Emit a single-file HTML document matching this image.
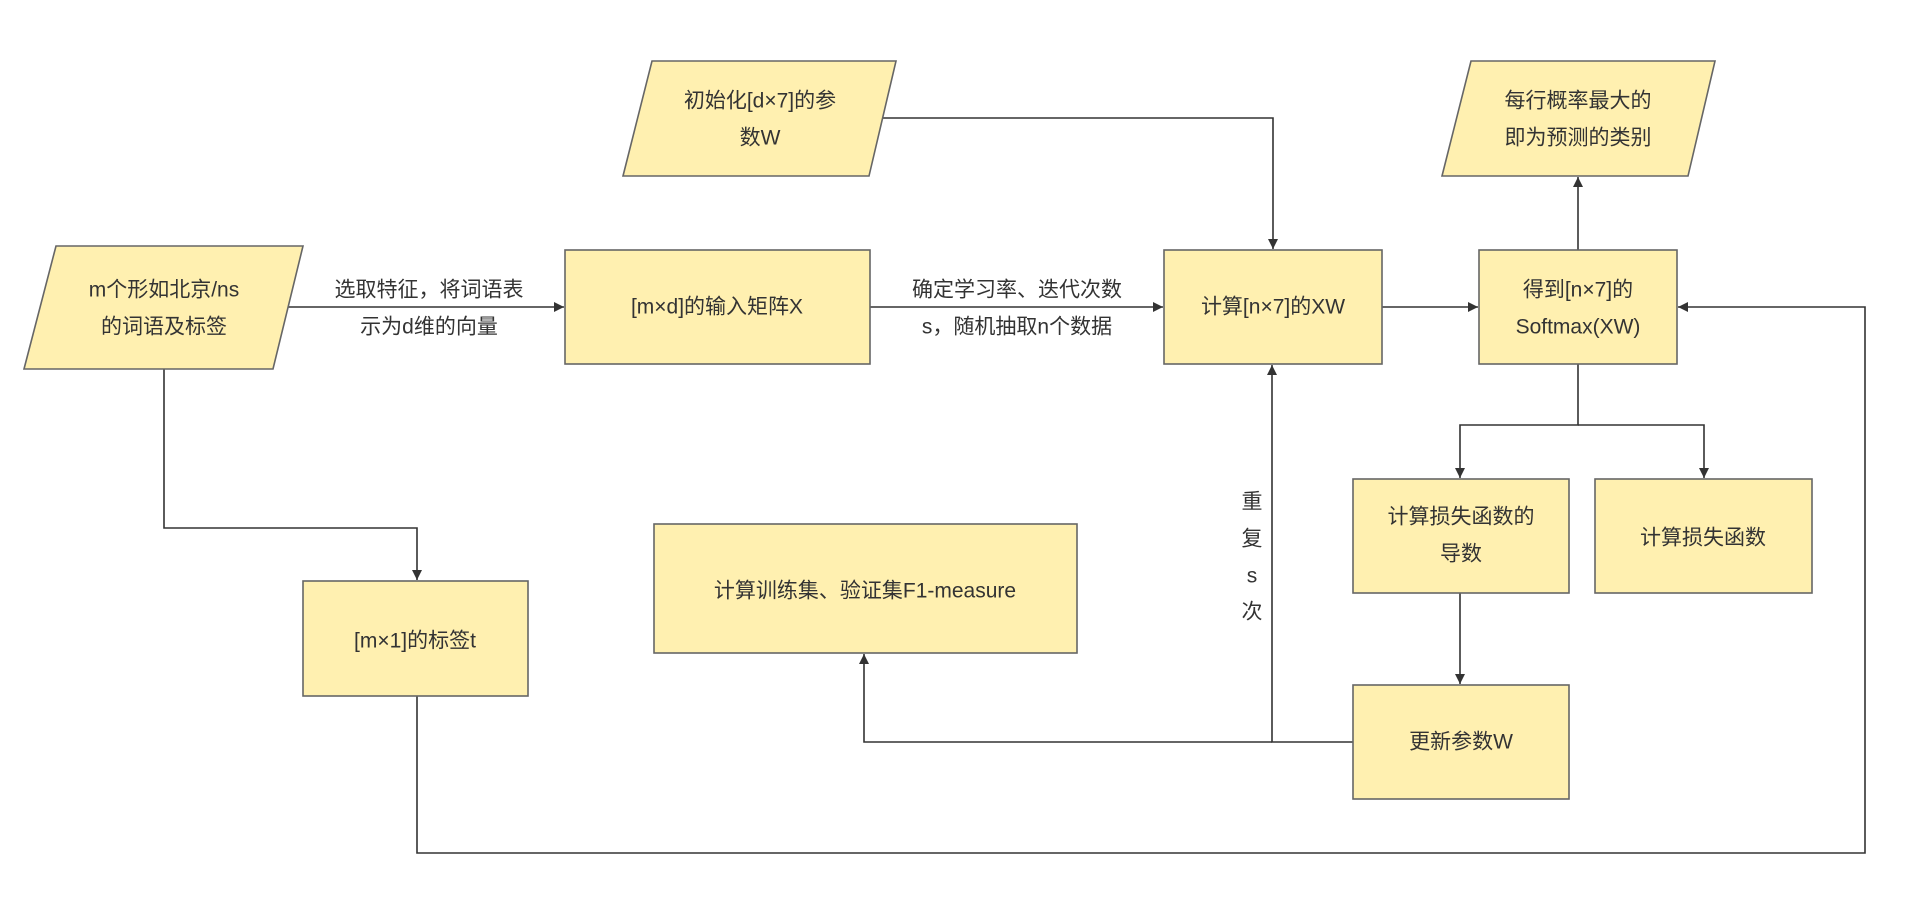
<!DOCTYPE html>
<html><head><meta charset="utf-8"><style>
body{margin:0;background:#fff}
svg text{font-family:"Liberation Sans","Noto Sans CJK SC",sans-serif;font-size:21px;fill:#333;text-anchor:middle;dominant-baseline:central}
</style></head><body>
<svg width="1910" height="904" viewBox="0 0 1910 904" xmlns="http://www.w3.org/2000/svg">
<defs><marker id="a" viewBox="0 0 10 10" refX="10" refY="5" markerWidth="10" markerHeight="10" markerUnits="userSpaceOnUse" orient="auto"><path d="M0,0L10,5L0,10z" fill="#333"/></marker></defs>
<g fill="none" stroke="#333" stroke-width="1.6">
<path d="M273,307H564" marker-end="url(#a)"/>
<path d="M870,307H1163" marker-end="url(#a)"/>
<path d="M869,118H1273V249" marker-end="url(#a)"/>
<path d="M1382,307H1478" marker-end="url(#a)"/>
<path d="M1578,250V177" marker-end="url(#a)"/>
<path d="M1578,364V425H1460V478" marker-end="url(#a)"/>
<path d="M1578,425H1704V478" marker-end="url(#a)"/>
<path d="M1460,593V684" marker-end="url(#a)"/>
<path d="M1353,742H1272V365" marker-end="url(#a)"/>
<path d="M1272,742H864V654" marker-end="url(#a)"/>
<path d="M164,369V528H417V580" marker-end="url(#a)"/>
<path d="M417,696V853H1865V307H1678" marker-end="url(#a)"/>
</g>
<g fill="#fff0b0" stroke="#666" stroke-width="1.6">
<polygon points="652,61 896,61 869,176 623,176"/>
<polygon points="1471,61 1715,61 1688,176 1442,176"/>
<polygon points="56,246 303,246 273,369 24,369"/>
<rect x="565" y="250" width="305" height="114"/>
<rect x="1164" y="250" width="218" height="114"/>
<rect x="1479" y="250" width="198" height="114"/>
<rect x="1353" y="479" width="216" height="114"/>
<rect x="1595" y="479" width="217" height="114"/>
<rect x="1353" y="685" width="216" height="114"/>
<rect x="303" y="581" width="225" height="115"/>
<rect x="654" y="524" width="423" height="129"/>
</g>
<text x="760" y="101">初始化[d×7]的参</text><text x="760" y="138">数W</text>
<text x="1578" y="101">每行概率最大的</text><text x="1578" y="138">即为预测的类别</text>
<text x="164" y="290">m个形如北京/ns</text><text x="164" y="327">的词语及标签</text>
<text x="429" y="290">选取特征，将词语表</text><text x="429" y="327">示为d维的向量</text>
<text x="717" y="307">[m×d]的输入矩阵X</text>
<text x="1017" y="290">确定学习率、迭代次数</text><text x="1017" y="327">s，随机抽取n个数据</text>
<text x="1273" y="307">计算[n×7]的XW</text>
<text x="1578" y="290">得到[n×7]的</text><text x="1578" y="327">Softmax(XW)</text>
<text x="1461" y="517">计算损失函数的</text><text x="1461" y="554">导数</text>
<text x="1703" y="538">计算损失函数</text>
<text x="1461" y="742">更新参数W</text>
<text x="415" y="641">[m×1]的标签t</text>
<text x="865" y="591">计算训练集、验证集F1-measure</text>
<text x="1252" y="502">重</text><text x="1252" y="539">复</text><text x="1252" y="576">s</text><text x="1252" y="612">次</text>
</svg>
</body></html>
